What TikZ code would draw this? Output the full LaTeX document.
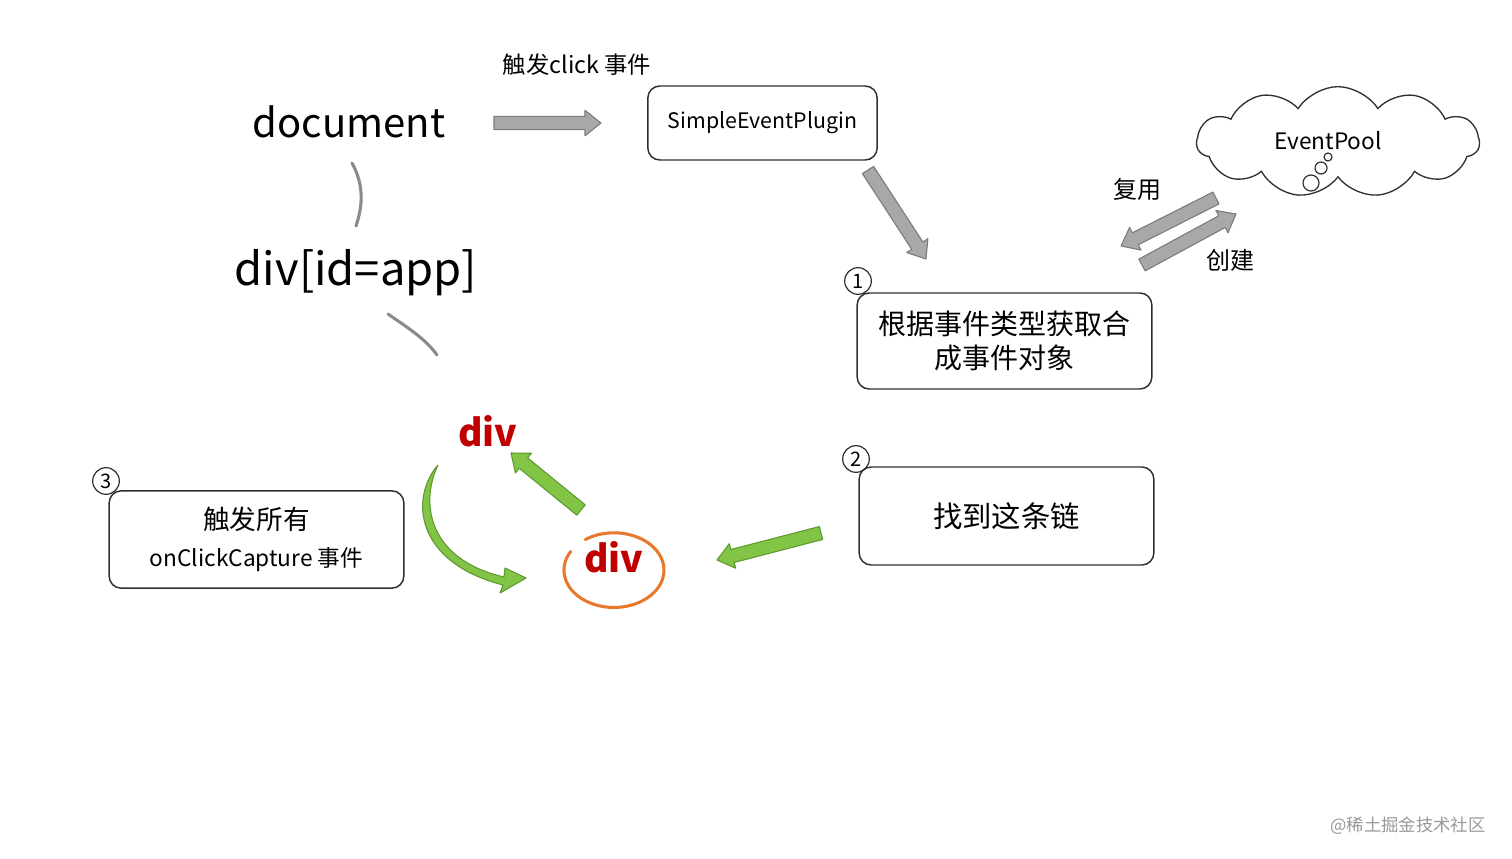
\documentclass[tikz,border=0pt]{standalone}
\usepackage{fontspec}
\setmainfont{Noto Sans CJK SC}
\usetikzlibrary{calc,shapes.symbols,arrows.meta}
\definecolor{gfill}{HTML}{A8A8A8}
\definecolor{gline}{HTML}{7A7A7A}
\definecolor{grfill}{HTML}{82C446}
\definecolor{grline}{HTML}{5C9A30}
\definecolor{divred}{HTML}{C00000}
\definecolor{ring}{HTML}{E8792C}
\definecolor{ink}{HTML}{303030}
\definecolor{linkgray}{HTML}{8A8A8A}
\newcommand\fatarrow[3]{%
  \coordinate (faC) at ($(#3)!12pt!(#2)$);
  \filldraw[#1] ($(#2)!5pt!90:(#3)$) -- ($(faC)!5pt!90:(#3)$) -- ($(faC)!9.5pt!90:(#3)$) -- (#3)
    -- ($(faC)!9.5pt!-90:(#3)$) -- ($(faC)!5pt!-90:(#3)$) -- ($(#2)!5pt!-90:(#3)$) -- cycle;
}
\tikzset{
  box/.style={draw=ink, line width=1.1pt, rounded corners=9pt, inner sep=0pt, align=center},
  num/.style={circle, draw=ink, line width=0.9pt, minimum size=20pt, inner sep=0pt, font=\fontsize{15}{15}\selectfont},
  link/.style={draw=linkgray, line width=2.3pt, line cap=round},
  grayarrow/.style={fill=gfill, draw=gline, line width=0.8pt, line join=round},
  greenarrow/.style={fill=grfill, draw=grline, line width=0.8pt, line join=round},
  lbl/.style={inner sep=0pt, text=black},
  divtext/.style={inner sep=0pt, text=divred, font=\fontsize{28}{28}\selectfont\bfseries},
}
\begin{document}
\begin{tikzpicture}[x=0.75pt, y=-0.75pt]
\path[use as bounding box, fill=white] (0,0) rectangle (1512,859);

% left tree
\node[lbl, font=\fontsize{30}{30}\selectfont] (doc) at (349,122) {document};
\node[lbl, font=\fontsize{34}{34}\selectfont] (app) at (356,273) {div[id=app]};
\coordinate (l1a) at (352,163);
\coordinate (l1b) at (356,226);
\draw[link] (l1a) .. controls (364,185) and (363,205) .. (l1b);
\coordinate (l2a) at (388,314);
\coordinate (l2b) at (437,355);
\draw[link] (l2a) .. controls (405,326) and (425,338) .. (l2b);

% top
\node[lbl, font=\fontsize{17.5}{17.5}\selectfont] (trig) at (577,65) {触发click 事件};
\node[box, minimum width=172pt, minimum height=55.5pt, font=\fontsize{16}{16}\selectfont] (sep) at (762.5,123) {SimpleEventPlugin};
\coordinate (a1s) at (494,123);
\coordinate (a1e) at (601,123);
\fatarrow{grayarrow}{a1s}{a1e}
\coordinate (a2s) at (868,170);
\coordinate (a2e) at (926,259);
\fatarrow{grayarrow}{a2s}{a2e}

% event pool
\node[cloud, draw=ink, line width=1pt, cloud puffs=11, cloud puff arc=115, aspect=2.5,
      minimum width=212pt, minimum height=83pt, inner sep=0pt] (pool) at (1338,142) {};
\node[lbl, font=\fontsize{17}{17}\selectfont] (poolt) at (1328,141) {EventPool};
\draw[ink, line width=0.9pt] (1328,157) circle[radius=3pt];
\draw[ink, line width=0.9pt] (1321,168) circle[radius=4.5pt];
\draw[ink, line width=0.9pt] (1311,183) circle[radius=6pt];
\coordinate (a3s) at (1216,198);
\coordinate (a3e) at (1121,246);
\fatarrow{grayarrow}{a3s}{a3e}
\coordinate (a4s) at (1142,265);
\coordinate (a4e) at (1236,214);
\fatarrow{grayarrow}{a4s}{a4e}
\node[lbl, font=\fontsize{18}{18}\selectfont] (reuse) at (1137,189) {复用};
\node[lbl, font=\fontsize{18}{18}\selectfont] (create) at (1230,260) {创建};

% step boxes
\node[box, minimum width=221pt, minimum height=72pt, font=\fontsize{21}{26}\selectfont] (b1) at (1004.5,341) {根据事件类型获取合\\成事件对象};
\node[num] (n1) at (858,281) {1};
\node[box, minimum width=221pt, minimum height=73.5pt, font=\fontsize{22}{22}\selectfont] (b2) at (1006.5,516) {找到这条链};
\node[num] (n2) at (856,459) {2};
\node[box, minimum width=221pt, minimum height=73pt, font=\fontsize{17}{28}\selectfont] (b3) at (256.5,539.5) {{\fontsize{20}{28}\selectfont 触发所有}\\onClickCapture 事件};
\node[num] (n3) at (106,481) {3};

% divs
\node[divtext] (d1) at (488,431) {div};
\node[divtext] (d2) at (614,557) {div};
\draw[ring, line width=2.3pt, line cap=round] ([shift={(-32.5pt,13.9pt)}]614,570) arc[start angle=150, end angle=485, x radius=37.5pt, y radius=28pt];

\coordinate (g1s) at (821,533);
\coordinate (g1e) at (717,560);
\fatarrow{greenarrow}{g1s}{g1e}
\coordinate (g2s) at (581,510);
\coordinate (g2e) at (511,453);
\fatarrow{greenarrow}{g2s}{g2e}
\filldraw[greenarrow] (438,465) .. controls (410,497) and (414,562) .. (503,585) -- (500,593) -- (526,578) -- (505,568) -- (504,577) .. controls (430,560) and (419,505) .. (438,465) -- cycle;

% watermark
\node[lbl, text=black!40, font=\fontsize{13}{13}\selectfont] (wm) at (1408,826) {@稀土掘金技术社区};
\end{tikzpicture}
\end{document}
